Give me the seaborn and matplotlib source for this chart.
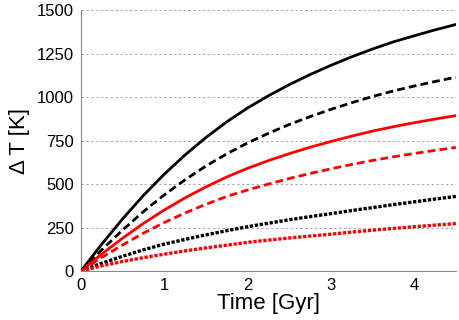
import numpy as np
import pandas as pd
import matplotlib
matplotlib.use("Agg")
import matplotlib.pyplot as plt
from matplotlib.ticker import MultipleLocator
import seaborn as sns

# ------------------------------------------
# Daten
# ------------------------------------------
time_gyr = [0, 0.25, 0.5, 0.75, 1.0, 1.25, 1.5, 1.75, 2.0, 2.25,
            2.5, 2.75, 3.0, 3.25, 3.5, 3.75, 4.0, 4.25, 4.5]

black_solid = [0, 155, 300, 435, 557, 668, 768, 858, 938, 1008,
               1072, 1130, 1183, 1232, 1277, 1318, 1353, 1387, 1418]
black_dashed = [0, 122, 236, 342, 438, 525, 604, 674, 737, 792,
                843, 888, 930, 968, 1004, 1036, 1064, 1090, 1115]
red_solid = [0, 98, 189, 274, 351, 421, 484, 541, 591, 635,
             675, 712, 745, 776, 805, 830, 853, 874, 894]
red_dashed = [0, 78, 150, 218, 279, 334, 384, 429, 466, 500,
              532, 561, 588, 613, 636, 657, 676, 694, 711]
black_dotted = [0, 45, 85, 122, 155, 182, 208, 232, 255, 275,
                295, 313, 330, 348, 365, 382, 398, 414, 429]
red_dotted = [0, 30, 55, 77, 97, 116, 133, 149, 165, 178,
              190, 201, 212, 224, 235, 245, 255, 264, 273]

y_ticks = [0, 250, 500, 750, 1000, 1250, 1500]
x_ticks = [0, 1, 2, 3, 4]

# ------------------------------------------
# Stil
# ------------------------------------------
sns.set_style("white")
plt.rcParams["font.family"] = ["Liberation Sans", "DejaVu Sans"]
plt.rcParams["text.color"] = "black"
plt.rcParams["axes.labelcolor"] = "black"

fig = plt.figure(figsize=(4.6, 3.2), dpi=100)
ax = fig.add_axes([0.176, 0.153, 0.815, 0.815])

dash = (0, (2.8, 1.5))
dot = (0, (1.0, 0.5))
lw = 2.0

series = [
    (black_solid, "black", "-", lw),
    (black_dashed, "black", dash, lw),
    (red_solid, "red", "-", lw),
    (red_dashed, "red", dash, lw),
    (black_dotted, "black", dot, 2.4),
    (red_dotted, "red", dot, 2.4),
]

for vals, col, ls, w in series:
    df = pd.DataFrame({"t": time_gyr, "dT": vals})
    sns.lineplot(data=df, x="t", y="dT", color=col, linestyle=ls,
                 linewidth=w, ax=ax, zorder=3)

ax.set_xlim(0, 4.5)
ax.set_ylim(0, 1500)
ax.set_xticks(x_ticks)
ax.set_yticks(y_ticks)
ax.xaxis.set_minor_locator(MultipleLocator(0.1))
ax.yaxis.set_minor_locator(MultipleLocator(50))

ax.grid(axis="y", which="major", color="#aaaaaa", linestyle=(0, (2.5, 2.5)),
        linewidth=0.7, zorder=0)
ax.grid(axis="x", visible=False)

for side in ["top", "right"]:
    ax.spines[side].set_visible(False)
for side in ["left", "bottom"]:
    ax.spines[side].set_color("#888888")
    ax.spines[side].set_linewidth(0.8)

ax.tick_params(axis="both", which="major", direction="out", length=3,
               color="#888888", labelsize=12, labelcolor="black", pad=2)
ax.tick_params(axis="both", which="minor", direction="in", length=2,
               color="#888888")

ax.set_xlabel("Time [Gyr]", fontsize=16, labelpad=0)
ax.set_ylabel("Δ T [K]", fontsize=16, labelpad=5)

fig.savefig("out.png", dpi=100)
